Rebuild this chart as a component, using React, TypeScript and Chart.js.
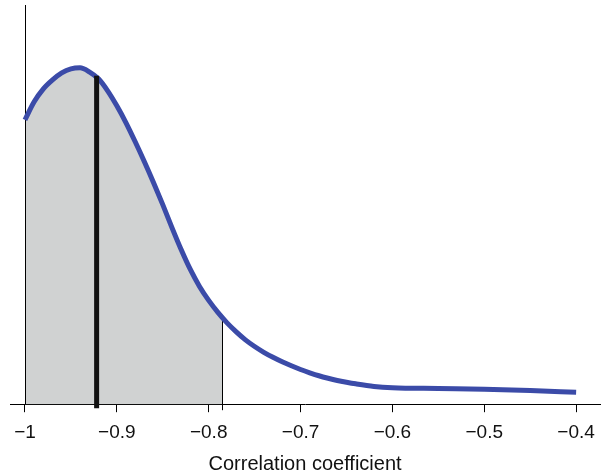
import { useEffect, useRef } from "react";
import { Chart, registerables } from "chart.js";

Chart.register(...registerables);

// Correlation coefficient grid and estimated density values
const xValues = [
  -1.0, -0.99, -0.98, -0.97, -0.96, -0.95, -0.94, -0.93, -0.92, -0.91, -0.9,
  -0.89, -0.88, -0.87, -0.86, -0.85, -0.84, -0.83, -0.82, -0.81, -0.8, -0.79,
  -0.78, -0.77, -0.76, -0.75, -0.74, -0.73, -0.72, -0.71, -0.7, -0.69, -0.68,
  -0.67, -0.66, -0.65, -0.64, -0.62, -0.6, -0.55, -0.5, -0.45, -0.4,
];
const densityValues = [
  2.85, 3.03, 3.16, 3.25, 3.32, 3.36, 3.37, 3.33, 3.26, 3.14, 2.99,
  2.82, 2.63, 2.43, 2.22, 2.0, 1.77, 1.55, 1.35, 1.18, 1.04, 0.92,
  0.815, 0.725, 0.645, 0.578, 0.52, 0.47, 0.425, 0.385, 0.348, 0.315, 0.285,
  0.26, 0.238, 0.22, 0.204, 0.178, 0.165, 0.157, 0.15, 0.137, 0.12,
];

const tickValues = [-1, -0.9, -0.8, -0.7, -0.6, -0.5, -0.4];
const tickLabels = ["\u22121", "\u22120.9", "\u22120.8", "\u22120.7", "\u22120.6", "\u22120.5", "\u22120.4"];
const axisTitle = "Correlation coefficient";

const meanValue = -0.922;
const meanDensity = 3.29;
const shadeLower = -1;
const shadeUpper = -0.7855;
const shadeUpperDensity = 0.87;

const xMin = -1.0163;
const xMax = -0.3739;
const yMax = 4;

const curveColor = "#3b4ba8";
const shadeColor = "#d0d2d2";

const overlayPlugin = {
  id: "overlay",
  beforeDatasetsDraw(chart: any) {
    const { ctx, chartArea, scales } = chart;
    const xs = scales.x;
    const ys = scales.y;
    const meta = chart.getDatasetMeta(0);
    const line: any = meta.dataset;
    if (line && typeof line.updateControlPoints === "function") {
      line.updateControlPoints(chartArea, "x");
    }
    const pts: any[] = meta.data as any[];
    const xl = xs.getPixelForValue(shadeLower);
    const xr = xs.getPixelForValue(shadeUpper);
    const base = ys.getPixelForValue(0);

    ctx.save();
    ctx.beginPath();
    ctx.rect(xl, chartArea.top - 20, xr - xl, base - chartArea.top + 20);
    ctx.clip();
    ctx.beginPath();
    ctx.moveTo(pts[0].x, base);
    ctx.lineTo(pts[0].x, pts[0].y);
    for (let i = 1; i < pts.length; i++) {
      const p = pts[i - 1];
      const q = pts[i];
      if (p.cp2x !== undefined && q.cp1x !== undefined) {
        ctx.bezierCurveTo(p.cp2x, p.cp2y, q.cp1x, q.cp1y, q.x, q.y);
      } else {
        ctx.lineTo(q.x, q.y);
      }
    }
    ctx.lineTo(pts[pts.length - 1].x, base);
    ctx.closePath();
    ctx.fillStyle = shadeColor;
    ctx.fill();
    ctx.restore();

    ctx.save();
    ctx.strokeStyle = "#000";
    ctx.lineWidth = 1;
    const lx = Math.round(xl) + 0.5;
    ctx.beginPath();
    ctx.moveTo(lx, chartArea.top);
    ctx.lineTo(lx, base);
    ctx.stroke();
    const rx = Math.round(xr) + 0.5;
    ctx.beginPath();
    ctx.moveTo(rx, ys.getPixelForValue(shadeUpperDensity));
    ctx.lineTo(rx, base + 6);
    ctx.stroke();
    ctx.restore();
  },
  afterDatasetsDraw(chart: any) {
    const { ctx, scales } = chart;
    const xs = scales.x;
    const ys = scales.y;
    const mx = xs.getPixelForValue(meanValue);
    const base = ys.getPixelForValue(0);
    ctx.save();
    ctx.strokeStyle = "#111";
    ctx.lineWidth = 5;
    ctx.lineCap = "butt";
    ctx.beginPath();
    ctx.moveTo(mx, ys.getPixelForValue(meanDensity));
    ctx.lineTo(mx, base + 4);
    ctx.stroke();
    ctx.restore();
  },
};

export default function App() {
  const canvasRef = useRef<HTMLCanvasElement | null>(null);

  useEffect(() => {
    if (!canvasRef.current) return;
    const chart = new Chart(canvasRef.current, {
      type: "line",
      data: {
        datasets: [
          {
            data: xValues.map((x, i) => ({ x, y: densityValues[i] })),
            borderColor: curveColor,
            borderWidth: 5,
            fill: false,
            pointRadius: 0,
            cubicInterpolationMode: "monotone",
            borderCapStyle: "butt",
          },
        ],
      },
      options: {
        animation: false,
        responsive: true,
        maintainAspectRatio: false,
        layout: { padding: { top: 5, left: 10, right: 3, bottom: 0 } },
        plugins: {
          legend: { display: false },
          tooltip: { enabled: false },
        },
        scales: {
          x: {
            type: "linear",
            min: xMin,
            max: xMax,
            afterBuildTicks: (scale: any) => {
              scale.ticks = tickValues.map((v) => ({ value: v }));
            },
            ticks: {
              autoSkip: false,
              maxRotation: 0,
              padding: 9,
              color: "#111",
              font: { family: "'Liberation Sans', Arial, sans-serif", size: 19 },
              callback: (value: any) => {
                const idx = tickValues.findIndex((t) => Math.abs(t - Number(value)) < 1e-6);
                return idx >= 0 ? tickLabels[idx] : "";
              },
            },
            grid: {
              display: true,
              drawOnChartArea: false,
              drawTicks: true,
              tickLength: 8,
              color: "#000",
              lineWidth: 1,
            },
            border: { display: true, color: "#000", width: 1 },
            title: {
              display: true,
              text: axisTitle,
              color: "#111",
              font: { family: "'Liberation Sans', Arial, sans-serif", size: 20, lineHeight: 1.1 },
              padding: { top: 0, bottom: 0 },
            },
          },
          y: {
            type: "linear",
            display: false,
            min: 0,
            max: yMax,
          },
        },
      },
      plugins: [overlayPlugin],
    });
    return () => chart.destroy();
  }, []);

  return (
    <div style={{ position: "absolute", left: 0, top: 0, width: 604, height: 475 }}>
      <canvas ref={canvasRef} style={{ width: "100%", height: "100%" }} />
    </div>
  );
}
